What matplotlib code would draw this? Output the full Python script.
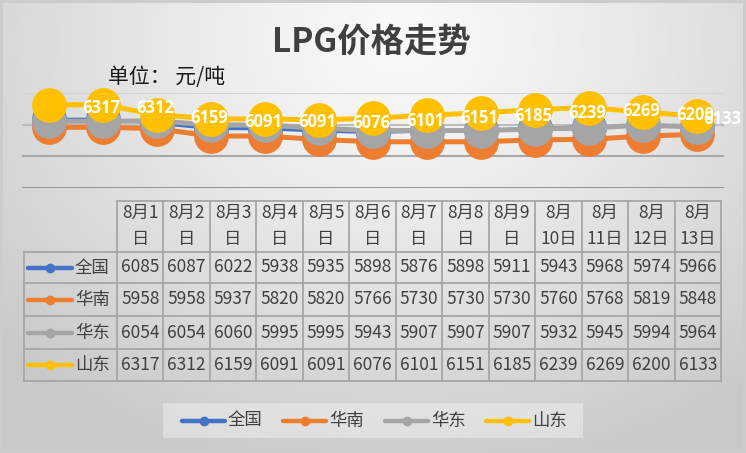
import numpy as np
import matplotlib
matplotlib.use("Agg")
import matplotlib.pyplot as plt

plt.rcParams['font.family'] = ['Noto Sans CJK SC', 'DejaVu Sans']

# ---------------- data ----------------
dates = ["8月1日", "8月2日", "8月3日", "8月4日", "8月5日", "8月6日", "8月7日",
         "8月8日", "8月9日", "8月10日", "8月11日", "8月12日", "8月13日"]
header_lines = [("8月1", "日"), ("8月2", "日"), ("8月3", "日"), ("8月4", "日"),
                ("8月5", "日"), ("8月6", "日"), ("8月7", "日"), ("8月8", "日"),
                ("8月9", "日"), ("8月", "10日"), ("8月", "11日"), ("8月", "12日"),
                ("8月", "13日")]
series_names = ["全国", "华南", "华东", "山东"]
quanguo = [6085, 6087, 6022, 5938, 5935, 5898, 5876, 5898, 5911, 5943, 5968, 5974, 5966]
huanan = [5958, 5958, 5937, 5820, 5820, 5766, 5730, 5730, 5730, 5760, 5768, 5819, 5848]
huadong = [6054, 6054, 6060, 5995, 5995, 5943, 5907, 5907, 5907, 5932, 5945, 5994, 5964]
shandong = [6317, 6312, 6159, 6091, 6091, 6076, 6101, 6151, 6185, 6239, 6269, 6200, 6133]
series_values = [quanguo, huanan, huadong, shandong]
colors = ["#4472C4", "#ED7D31", "#A5A5A5", "#FFC000"]
y_ticks = [5000, 5500, 6000, 6500]

W, H = 746, 453
fig = plt.figure(figsize=(W / 100, H / 100), dpi=100)

# ---------------- background ----------------
bg = fig.add_axes([0, 0, 1, 1])
yy, xx = np.mgrid[0:H, 0:W]
r = np.sqrt(((xx - 400) / 540.0) ** 2 + ((yy - 40) / 450.0) ** 2)
val = 0.98 - 0.19 * np.clip(r, 0, 1) ** 1.2
img = np.dstack([val, val, val])
frame = np.zeros((H, W), bool)
frame[:3, :] = True
frame[-3:, :] = True
frame[:, :3] = True
frame[:, -3:] = True
img[frame] = 0.80
bg.imshow(img, extent=(0, W, H, 0), aspect='auto', interpolation='bilinear')
bg.set_xlim(0, W)
bg.set_ylim(H, 0)
bg.axis('off')

# ---------------- titles ----------------
fig.text(371 / W, 1 - 42 / H, "LPG价格走势", ha='center', va='center',
         fontsize=24, fontweight='heavy', color='#404040')
fig.text(108 / W, 1 - 77 / H, "单位： 元/吨", ha='left', va='center',
         fontsize=15, color='#1a1a1a')

# ---------------- line chart ----------------
ax = fig.add_axes([22 / W, 1 - 188 / H, 702 / W, 95 / H])
ax.patch.set_alpha(0)
x = np.arange(len(dates))
lws = [2.2, 3.6, 3.6, 3.6]
for vals, c, lw in zip(series_values, colors, lws):
    ax.plot(x, vals, color=c, lw=lw, marker='o', markersize=24,
            markeredgecolor=c, clip_on=False, solid_joinstyle='round')
ax.set_xlim(-0.5, len(dates) - 0.5)
ax.set_ylim(y_ticks[0], y_ticks[-1])
grid_cols = ['#8c8c8c', '#a8a8a8', '#bdbdbd', '#d4d4d4']
grid_lw = [2.0, 1.5, 1.5, 1.5]
for t, gc, glw in zip(y_ticks, grid_cols, grid_lw):
    ax.axhline(t, color=gc, lw=glw, zorder=0)
for s in ax.spines.values():
    s.set_visible(False)
ax.set_xticks([])
ax.set_yticks([])

# data labels for 山东 (placed to the right)
for i, v in enumerate(shandong):
    dx = 52 if i < len(shandong) - 1 else 25
    ax.annotate(str(v), (x[i], v), xytext=(dx, -3), textcoords='offset pixels',
                ha='center', va='center', color='white', fontsize=12,
                fontweight='bold', family=['Open Sans', 'DejaVu Sans'],
                zorder=10, annotation_clip=False)

# ---------------- data table ----------------
grid_c = '#a6a6a6'
col_edges = np.linspace(117, 721, len(dates) + 1)
row_edges = [201, 252, 283, 316, 349, 381]
tc = '#404040'
bg.plot([117, 721], [row_edges[0]] * 2, color=grid_c, lw=1.3)
for yv in row_edges[1:]:
    bg.plot([24, 721], [yv, yv], color=grid_c, lw=1.3)
bg.plot([24, 24], [row_edges[1], row_edges[-1]], color=grid_c, lw=1.3)
for xv in col_edges:
    bg.plot([xv, xv], [row_edges[0], row_edges[-1]], color=grid_c, lw=1.3)

for j, (l1, l2) in enumerate(header_lines):
    cx = (col_edges[j] + col_edges[j + 1]) / 2
    bg.text(cx, 213, l1, ha='center', va='center', fontsize=12.5, color=tc)
    bg.text(cx, 239, l2, ha='center', va='center', fontsize=12.5, color=tc)

for k, (name, vals, c) in enumerate(zip(series_names, series_values, colors)):
    cy = (row_edges[k + 1] + row_edges[k + 2]) / 2
    bg.plot([28, 72], [cy, cy], color=c, lw=3.2, solid_capstyle='round')
    bg.plot([50], [cy], 'o', color=c, markersize=6)
    bg.text(75, cy, name, ha='left', va='center', fontsize=12.5, color=tc)
    for j, v in enumerate(vals):
        cx = (col_edges[j] + col_edges[j + 1]) / 2
        bg.text(cx, cy, str(v), ha='center', va='center', fontsize=12.5, color=tc)

# ---------------- legend ----------------
bg.add_patch(plt.Rectangle((163, 403), 420, 35, facecolor='white', alpha=0.35,
                           edgecolor='none'))
leg_x = [182, 283, 385, 486]
for lx, name, c in zip(leg_x, series_names, colors):
    bg.plot([lx, lx + 43], [420.5, 420.5], color=c, lw=3.2, solid_capstyle='round')
    bg.plot([lx + 21.5], [420.5], 'o', color=c, markersize=6)
    bg.text(lx + 46, 420.5, name, ha='left', va='center', fontsize=12.5, color=tc)
bg.set_xlim(0, W)
bg.set_ylim(H, 0)

fig.savefig("out.png", dpi=100)
